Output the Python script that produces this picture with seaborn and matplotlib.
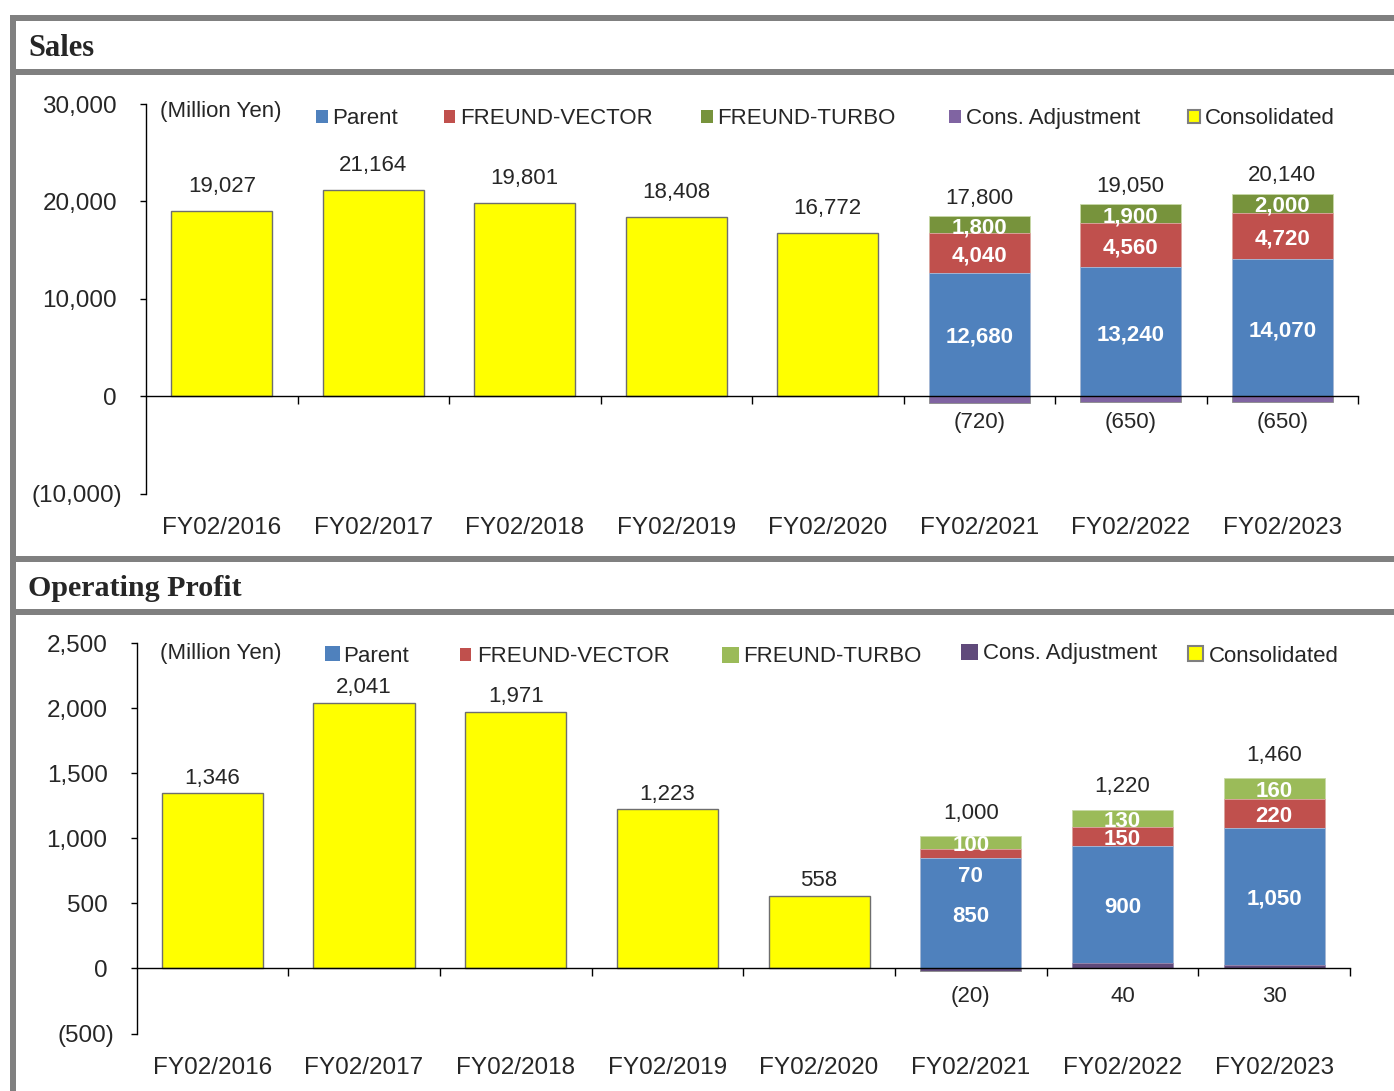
import matplotlib
matplotlib.use("Agg")
import matplotlib.pyplot as plt
import seaborn as sns
from matplotlib.patches import Patch, Rectangle
from matplotlib.transforms import blended_transform_factory

# ---------------- data ----------------
categories = ["FY02/2016", "FY02/2017", "FY02/2018", "FY02/2019",
              "FY02/2020", "FY02/2021", "FY02/2022", "FY02/2023"]
consol_years = categories[:5]
stack_years = categories[5:]

sales_consolidated = [19027, 21164, 19801, 18408, 16772]
sales_parent = [12680, 13240, 14070]
sales_vector = [4040, 4560, 4720]
sales_turbo = [1800, 1900, 2000]
sales_adjust = [-720, -650, -650]
sales_total = [17800, 19050, 20140]

op_consolidated = [1346, 2041, 1971, 1223, 558]
op_parent = [850, 900, 1050]
op_vector = [70, 150, 220]
op_turbo = [100, 130, 160]
op_adjust = [-20, 40, 30]
op_total = [1000, 1220, 1460]

sales_yticks = [-10000, 0, 10000, 20000, 30000]
op_yticks = [-500, 0, 500, 1000, 1500, 2000, 2500]

legend_labels = ["Parent", "FREUND-VECTOR", "FREUND-TURBO",
                 "Cons. Adjustment", "Consolidated"]
panel_titles = ["Sales", "Operating Profit"]
unit_label = "(Million Yen)"

# ---------------- style ----------------
C_PARENT = "#4F81BD"
C_VECTOR = "#C0504D"
C_TURBO_S = "#77933C"
C_TURBO_O = "#9BBB59"
C_ADJ_S = "#8064A2"
C_ADJ_O = "#604A7B"
C_YELLOW = "#FFFF00"
C_FRAME = "#808080"
SHIFT = -2.2  # points: move 'center' aligned text onto cap-height centre

sns.set_style("white")
plt.rcParams["font.family"] = ["Liberation Sans", "DejaVu Sans"]

W, H = 1394, 1091
fig = plt.figure(figsize=(W / 100, H / 100), dpi=100)


def fx(x):
    return x / W


def fy(y):
    return 1 - y / H


# grey frame
for (x0, y0, x1, y1) in [(10, 15, 1394, 21), (10, 15, 16, 1091),
                         (10, 69, 1394, 75), (10, 556, 1394, 562),
                         (10, 609, 1394, 615)]:
    fig.add_artist(Rectangle((fx(x0), fy(y1)), (x1 - x0) / W, (y1 - y0) / H,
                             transform=fig.transFigure, facecolor=C_FRAME,
                             edgecolor="none", zorder=0))

fig.text(fx(28), fy(56), panel_titles[0], family=["Liberation Serif", "DejaVu Serif"],
         fontsize=22, fontweight="bold", ha="left", va="baseline")
fig.text(fx(28), fy(596), panel_titles[1], family=["Liberation Serif", "DejaVu Serif"],
         fontsize=21.6, fontweight="bold", ha="left", va="baseline")


def fmt(v):
    return f"({abs(v):,})" if v < 0 else f"{v:,}"


def draw_panel(ax, consolidated, parent, vector, turbo, adjust, total,
               turbo_color, adj_color, yticks, neg_pad, pos_pad,
               consol_dy, total_dy, adj_dy, vector_dy):
    n = len(categories)
    base = [max(a, 0) for a in adjust]
    neg = [min(a, 0) for a in adjust]
    cum1 = [b + p for b, p in zip(base, parent)]
    cum2 = [c + v for c, v in zip(cum1, vector)]
    cum3 = [c + t for c, t in zip(cum2, turbo)]
    common = dict(order=categories, width=0.667, saturation=1, errorbar=None, ax=ax)

    sns.barplot(x=consol_years, y=consolidated, color=C_YELLOW,
                edgecolor="#6E6E6E", linewidth=1.0, **common)
    sns.barplot(x=stack_years, y=cum3, color=turbo_color,
                edgecolor="#C9D9A8", linewidth=0.6, **common)
    sns.barplot(x=stack_years, y=cum2, color=C_VECTOR,
                edgecolor="#E0A8A6", linewidth=0.6, **common)
    sns.barplot(x=stack_years, y=cum1, color=C_PARENT,
                edgecolor="#A9C0DE", linewidth=0.6, **common)
    pos_years = [y for y, b in zip(stack_years, base) if b > 0]
    pos_vals = [b for b in base if b > 0]
    if pos_vals:
        sns.barplot(x=pos_years, y=pos_vals, color=adj_color,
                    edgecolor="#9A8AB0", linewidth=0.6, **common)
    neg_years = [y for y, v in zip(stack_years, neg) if v < 0]
    neg_vals = [v for v in neg if v < 0]
    if neg_vals:
        sns.barplot(x=neg_years, y=neg_vals, color=adj_color,
                    edgecolor="#8A8A8A", linewidth=0.6, **common)

    # labels
    for i, v in enumerate(consolidated):
        ax.annotate(fmt(v), xy=(i, v), xytext=(0, consol_dy + SHIFT),
                    textcoords="offset points", ha="center", va="center", fontsize=16)
    for j in range(len(stack_years)):
        i = categories.index(stack_years[j])
        ax.annotate(fmt(total[j]), xy=(i, cum3[j]), xytext=(0, total_dy + SHIFT),
                    textcoords="offset points", ha="center", va="center", fontsize=16)
        for val, lo, hi, dy in [(parent[j], base[j], cum1[j], 0),
                                (vector[j], cum1[j], cum2[j], vector_dy[j]),
                                (turbo[j], cum2[j], cum3[j], 0)]:
            ax.annotate(fmt(val), xy=(i, (lo + hi) / 2), xytext=(0, dy + SHIFT),
                        textcoords="offset points", ha="center", va="center",
                        fontsize=16, fontweight="bold", color="white")
        ax.annotate(fmt(adjust[j]), xy=(i, 0), xytext=(0, adj_dy + SHIFT),
                    textcoords="offset points", ha="center", va="center", fontsize=16)

    # axes styling
    ax.set_xlim(-0.5, n - 0.5)
    ax.set_ylim(yticks[0], yticks[-1])
    ax.set_xlabel("")
    ax.set_ylabel("")
    for s in ["top", "right"]:
        ax.spines[s].set_visible(False)
    ax.spines["bottom"].set_position(("data", 0))
    for s in ["left", "bottom"]:
        ax.spines[s].set_linewidth(1.0)
        ax.spines[s].set_color("black")

    ax.set_xticks([k + 0.5 for k in range(n)])
    ax.set_xticklabels([])
    ax.tick_params(axis="x", which="major", direction="out", length=6, width=1.0,
                   color="black", bottom=True)
    ax.tick_params(axis="x", which="minor", bottom=False)

    pos_ticks = [t for t in yticks if t >= 0]
    neg_ticks = [t for t in yticks if t < 0]
    ax.set_yticks(pos_ticks)
    ax.set_yticklabels([fmt(t) for t in pos_ticks])
    ax.set_yticks(neg_ticks, minor=True)
    ax.set_yticklabels([fmt(t) for t in neg_ticks], minor=True)
    ax.tick_params(axis="y", which="both", direction="out", length=4.3, width=1.0,
                   color="black", left=True, labelsize=17.5)
    ax.tick_params(axis="y", which="major", pad=pos_pad)
    ax.tick_params(axis="y", which="minor", pad=neg_pad)
    ax.grid(False)

    trans = blended_transform_factory(ax.transData, ax.transAxes)
    for i, c in enumerate(categories):
        ax.text(i, -0.0885, c, transform=trans, ha="center", va="center", fontsize=17.5)


# --- Sales panel ---
ax1 = fig.add_axes([fx(146), fy(493.5), (1358 - 146) / W, (493.5 - 104) / H])
draw_panel(ax1, sales_consolidated, sales_parent, sales_vector, sales_turbo,
           sales_adjust, sales_total, C_TURBO_S, C_ADJ_S, sales_yticks,
           neg_pad=13, pos_pad=16.5, consol_dy=20, total_dy=15, adj_dy=-17,
           vector_dy=[0, 0, 0])

# --- Operating profit panel ---
ax2 = fig.add_axes([fx(136.5), fy(1033.5), (1350 - 136.5) / W, (1033.5 - 643) / H])
draw_panel(ax2, op_consolidated, op_parent, op_vector, op_turbo,
           op_adjust, op_total, C_TURBO_O, C_ADJ_O, op_yticks,
           neg_pad=11.5, pos_pad=16.5, consol_dy=13, total_dy=18.5, adj_dy=-18,
           vector_dy=[-14.5, 0, 0])

fig.text(fx(160), fy(112), unit_label, fontsize=16, ha="left", va="center")
fig.text(fx(160), fy(653), unit_label, fontsize=16, ha="left", va="center")


# --- legends ---
def legend_entry(handle, label, x_marker, y_center, size_px, gap_px, fontsize=16):
    fs_px = fontsize * 100 / 72
    leg = fig.legend(handles=[handle], labels=[label], loc="center left",
                     bbox_to_anchor=(fx(x_marker), fy(y_center)),
                     bbox_transform=fig.transFigure, frameon=False, borderpad=0,
                     borderaxespad=0, handlelength=size_px / fs_px,
                     handleheight=size_px / fs_px, handletextpad=gap_px / fs_px,
                     fontsize=fontsize)
    return leg


top_handles = [Patch(facecolor=C_PARENT, edgecolor="none"),
               Patch(facecolor=C_VECTOR, edgecolor="none"),
               Patch(facecolor=C_TURBO_S, edgecolor="none"),
               Patch(facecolor=C_ADJ_S, edgecolor="none"),
               Patch(facecolor=C_YELLOW, edgecolor="#7F7F7F", linewidth=1.5)]
top_x = [316, 444, 701, 949, 1188]
for h, lab, x in zip(top_handles, legend_labels, top_x):
    legend_entry(h, lab, x, 118.5, 11.5, 5)

bot_handles = [Patch(facecolor=C_PARENT, edgecolor="none"),
               Patch(facecolor=C_VECTOR, edgecolor="none"),
               Patch(facecolor=C_TURBO_O, edgecolor="none"),
               Patch(facecolor=C_ADJ_O, edgecolor="none"),
               Patch(facecolor=C_YELLOW, edgecolor="#7F7F7F", linewidth=1.5)]
bot_x = [325, 460, 722, 961, 1188]
bot_size = [15, 11, 17, 17, 15]
bot_gap = [3, 6, 4, 5, 6]
bot_y = [656, 657, 657, 654, 656]
for h, lab, x, s, g, yy in zip(bot_handles, legend_labels, bot_x, bot_size, bot_gap, bot_y):
    legend_entry(h, lab, x, yy, s, g)

fig.savefig("out.png", dpi=100)
